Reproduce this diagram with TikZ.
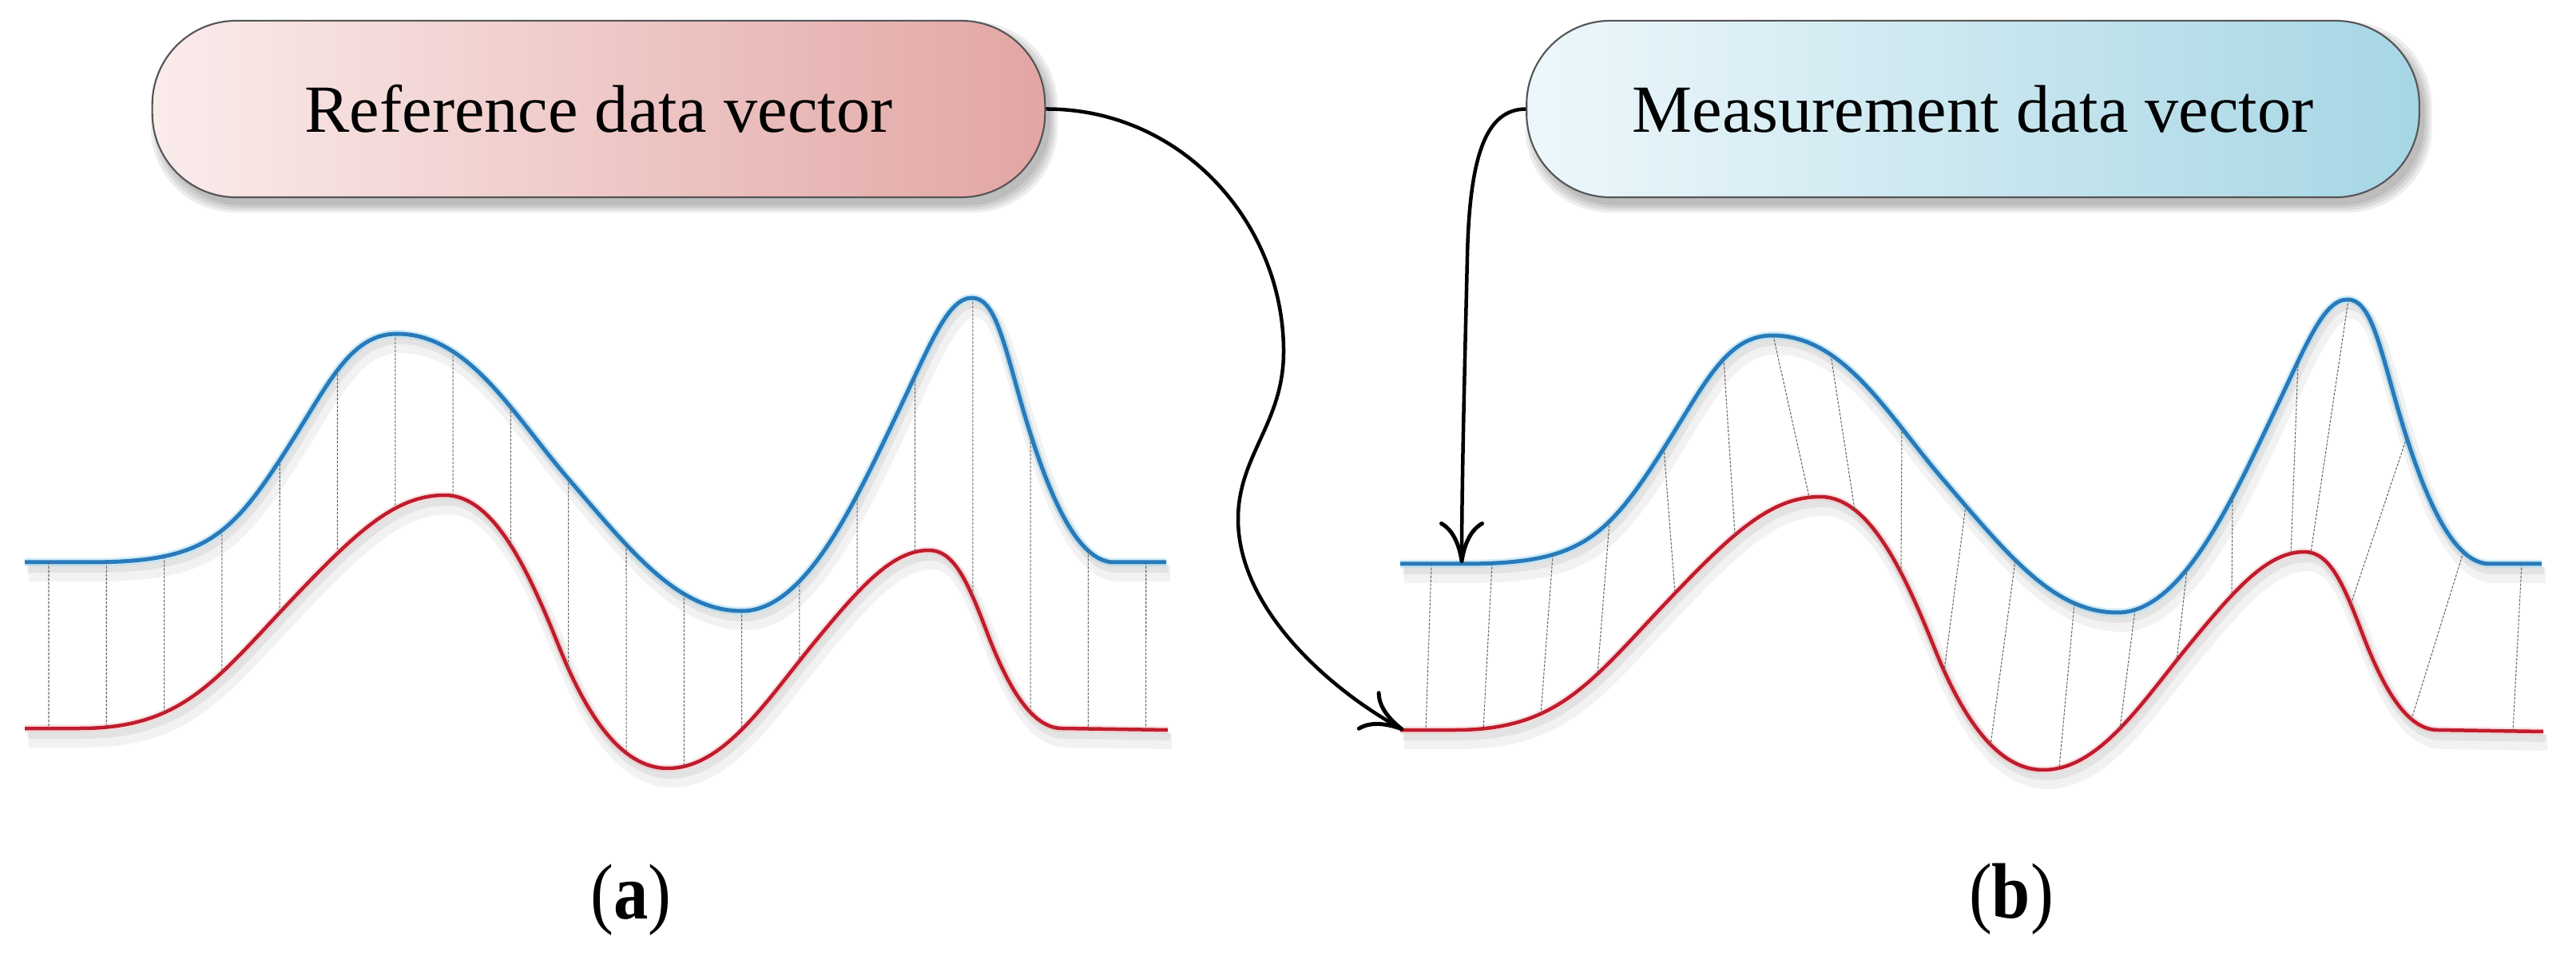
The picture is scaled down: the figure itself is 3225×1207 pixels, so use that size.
\documentclass[tikz,border=0pt]{standalone}
\usepackage{fontspec}
\usepackage{graphicx}
\setmainfont{Liberation Serif}
\usetikzlibrary{arrows.meta,intersections}

\definecolor{blueC}{RGB}{40,122,186}
\definecolor{blueH}{RGB}{150,215,240}
\definecolor{redC}{RGB}{192,28,44}
\definecolor{redH}{RGB}{240,170,175}
\definecolor{refL}{RGB}{250,236,235}
\definecolor{refR}{RGB}{226,166,164}
\definecolor{measL}{RGB}{237,247,251}
\definecolor{measR}{RGB}{166,214,228}
\definecolor{borderC}{RGB}{85,85,85}

\def\bluepts{(31,704) -- (110,704) .. controls (260,704) and (290,673) .. (370,545) .. controls (415,473) and (442,418) .. (497,418) .. controls (587,418) and (642,519) .. (712,600) .. controls (792,693) and (849,765) .. (929,765) .. controls (1009,765) and (1071,627.5) .. (1126,512) .. controls (1166,428) and (1187,373) .. (1217,373) .. controls (1245,373) and (1256,426) .. (1278,503) .. controls (1313,625.5) and (1350,704) .. (1395,704) -- (1460,704)}
\def\redpts{(31,912) -- (100,912) .. controls (230,912) and (270,851) .. (370,746) .. controls (450,662) and (497,620) .. (557,620) .. controls (617,620) and (660,710) .. (700,810) .. controls (745,922.5) and (791,962) .. (836,962) .. controls (906,962) and (959,878) .. (1019,805) .. controls (1079,732) and (1118,689) .. (1163,689) .. controls (1193,689) and (1210,724) .. (1235,790) .. controls (1260,856) and (1290,912) .. (1330,912) -- (1462,914)}

\begin{document}
\begin{tikzpicture}[x=0.01cm,y=-0.01cm,
  txt/.style={font=\fontsize{24pt}{29pt}\selectfont},
  databox/.style={txt, draw=borderC, line width=0.6pt, rounded corners=1.05cm,
    minimum width=11.17cm, minimum height=2.21cm, inner sep=0pt},
  refbox/.style={databox, left color=refL, right color=refR},
  measbox/.style={databox, left color=measL, right color=measR},
  boxshadow/.style={fill=black, opacity=0.07, rounded corners=1.05cm},
  bluecurve/.style={draw=blueC, line width=0.05cm, line join=round},
  redcurve/.style={draw=redC, line width=0.045cm, line join=round},
  bluehalo/.style={draw=blueH, line width=0.1cm, opacity=0.45},
  redhalo/.style={draw=redH, line width=0.09cm, opacity=0.35},
  curveshadowA/.style={draw=black, opacity=0.05, line width=0.2cm},
  curveshadowB/.style={draw=black, opacity=0.06, line width=0.1cm},
  warp/.style={draw=black!60, line width=0.3pt, dash pattern=on 0.9pt off 0.5pt},
  conn/.style={draw=black, line width=0.045cm,
    -{Computer Modern Rightarrow[length=0.52cm,width=0.56cm,line width=0.05cm]}},
  lab/.style={font=\fontsize{28pt}{33pt}\selectfont, anchor=base, inner sep=0pt}
]
\fill[white] (0,0) rectangle (3225,1207);
\useasboundingbox (0,0) rectangle (3225,1207);

% ---------- box shadows ----------
\foreach \cx in {749.5,2470}{
  \foreach \g in {0,3,6,9}{
    \fill[boxshadow] (\cx-558.5+7-\g,26+10-\g) rectangle (\cx+558.5+7+\g,247+10+\g);
  }
}

% ---------- curve shadows ----------
\foreach \dx/\dy in {0/0,1722/2}{
  \begin{scope}[shift={(\dx+5,\dy+14)}]
    \draw[curveshadowA] \bluepts;
    \draw[curveshadowA] \redpts;
  \end{scope}
  \begin{scope}[shift={(\dx+3,\dy+8)}]
    \draw[curveshadowB] \bluepts;
    \draw[curveshadowB] \redpts;
  \end{scope}
}

% ---------- panel (a) curves ----------
\draw[bluehalo] \bluepts;
\draw[redhalo] \redpts;
\draw[bluecurve, name path global=blueA] \bluepts;
\draw[redcurve, name path global=redA] \redpts;

% ---------- panel (b) curves ----------
\begin{scope}[shift={(1722,2)}]
  \draw[bluehalo] \bluepts;
  \draw[redhalo] \redpts;
  \draw[bluecurve, name path global=blueB] \bluepts;
  \draw[redcurve, name path global=redB] \redpts;
\end{scope}

% ---------- panel (a) vertical correspondences ----------
\foreach \k in {0,...,19}{
  \pgfmathsetmacro\xx{61+72.3*\k}
  \path[name path=vv] (\xx,300) -- (\xx,1000);
  \path[name intersections={of=blueA and vv, by={ta}}];
  \path[name intersections={of=redA and vv, by={ba}}];
  \draw[warp] (ta) -- (ba);
}

% ---------- panel (b) warped correspondences ----------
\foreach \xt/\xb in {1792/1785, 1868/1857, 1944/1929, 2015/2000, 2083/2097,
  2158/2172, 2220/2265, 2292/2322, 2381/2380, 2461/2434, 2523/2492, 2597/2578,
  2673/2654, 2738/2725, 2795/2794, 2877/2868, 2940/2893, 3013/2943, 3084/3019, 3157/3146}{
  \path[name path=vt] (\xt,300) -- (\xt,1000);
  \path[name path=vb] (\xb,300) -- (\xb,1000);
  \path[name intersections={of=blueB and vt, by={tb}}];
  \path[name intersections={of=redB and vb, by={bb}}];
  \draw[warp] (tb) -- (bb);
}

% ---------- boxes ----------
\node[refbox] (ref) at (749.5,136.5) {Reference data vector};
\node[measbox] (meas) at (2470,136.5) {Measurement data vector};

% ---------- connectors ----------
\coordinate (tipR) at (1757,914);
\coordinate (tipB) at (1830,705);
\draw[conn] (ref.east) .. controls (1480,136) and (1607,280) .. (1607,440)
  .. controls (1607,530) and (1550,570) .. (1550,650)
  .. controls (1550,760) and (1660,860) .. (tipR);
\draw[conn] (meas.west) .. controls (1862,137) and (1840,190) .. (1837,320)
  .. controls (1834,450) and (1830,600) .. (tipB);

% ---------- labels ----------
\node[lab] (la) at (790,1150) {\scalebox{0.88}[1]{(\textbf{a})}};
\node[lab] (lb) at (2518,1149) {\scalebox{0.88}[1]{(\textbf{b})}};
\end{tikzpicture}
\end{document}
